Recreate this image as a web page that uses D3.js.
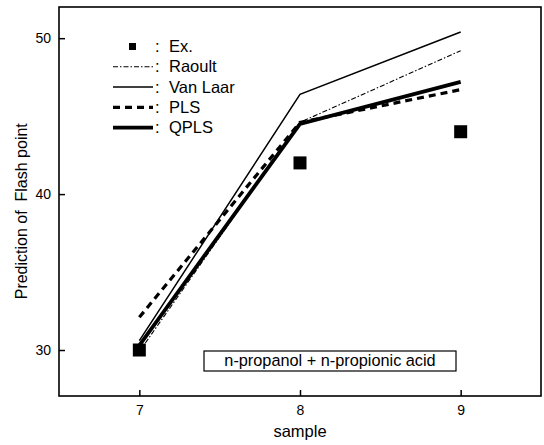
<!DOCTYPE html>
<html><head><meta charset="utf-8">
<script src="https://cdn.jsdelivr.net/npm/d3@7"></script>
<style>body{margin:0;background:#fff}svg{display:block}text{font-family:"Liberation Sans",Arial,sans-serif;fill:#000}</style>
</head><body>
<script>
const samples = [7, 8, 9];
const exValues = [30.0, 42.0, 44.0];
const raoult = [29.9, 44.6, 49.2];
const vanLaar = [30.6, 46.4, 50.4];
const pls = [32.1, 44.6, 46.7];
const qpls = [30.3, 44.5, 47.2];
const yTicks = [30, 40, 50];
const xTicks = [7, 8, 9];
const legendLabels = ["Ex.", "Raoult", "Van Laar", "PLS", "QPLS"];
const boxLabel = "n-propanol + n-propionic acid";

const W = 544, H = 445;
const m = {left: 59, right: 3, top: 7, bottom: 49};
const svg = d3.select("body").append("svg").attr("width", W).attr("height", H);
const x = d3.scaleLinear().domain([6.5, 9.5]).range([m.left, W - m.right]);
const y = d3.scaleLinear().domain([27.05, 52]).range([H - m.bottom, m.top]);

const styles = [
  {data: raoult, w: 1.1, dash: "5,2,1.5,2"},
  {data: vanLaar, w: 1.5, dash: null},
  {data: pls, w: 3.2, dash: "7,5"},
  {data: qpls, w: 3.8, dash: null}
];
const line = d3.line().x((d, i) => x(samples[i])).y(d => y(d));
styles.forEach(s => {
  svg.append("path").datum(s.data).attr("d", line).attr("fill", "none")
    .attr("stroke", "#000").attr("stroke-width", s.w)
    .attr("stroke-dasharray", s.dash);
});
const sq = 13;
svg.selectAll("rect.ex").data(exValues).enter().append("rect").attr("class", "ex")
  .attr("x", (d, i) => x(samples[i]) - sq / 2).attr("y", d => y(d) - sq / 2)
  .attr("width", sq).attr("height", sq).attr("fill", "#000");

// axes
const g = svg.append("g");
g.append("g").attr("transform", `translate(0,${H - m.bottom})`)
  .call(d3.axisBottom(x).tickValues(xTicks).tickFormat(d3.format("d")).tickSizeInner(-6).tickSizeOuter(0).tickPadding(9));
g.append("g").attr("transform", `translate(${m.left},0)`)
  .call(d3.axisLeft(y).tickValues(yTicks).tickFormat(d3.format("d")).tickSizeInner(-6).tickSizeOuter(0).tickPadding(8));
g.selectAll(".domain").remove();
g.selectAll(".tick line").attr("stroke-width", 1.5);
g.selectAll(".tick text").style("font-size", "14px").style("font-family", '"Liberation Sans",Arial,sans-serif');
svg.append("rect").attr("x", m.left).attr("y", m.top)
  .attr("width", W - m.right - m.left).attr("height", H - m.bottom - m.top)
  .attr("fill", "none").attr("stroke", "#000").attr("stroke-width", 1.6);

// axis labels
svg.append("text").attr("x", x(8)).attr("y", 437).attr("text-anchor", "middle")
  .style("font-size", "16.5px").text("sample");
svg.append("text").attr("transform", `translate(27,${y(38.9)}) rotate(-90)`)
  .attr("text-anchor", "middle").style("font-size", "16px").style("white-space", "pre")
  .text("Prediction of\u00a0 Flash point");

// legend
const lx0 = 113, lx1 = 153, ly0 = 46.5, ldy = 20.3;
legendLabels.forEach((lab, i) => {
  const yy = ly0 + i * ldy;
  if (i === 0) {
    svg.append("rect").attr("x", 129).attr("y", yy - 3.5).attr("width", 7).attr("height", 7).attr("fill", "#000");
  } else {
    const s = styles[i - 1];
    svg.append("line").attr("x1", lx0).attr("x2", lx1).attr("y1", yy).attr("y2", yy)
      .attr("stroke", "#000").attr("stroke-width", s.w).attr("stroke-dasharray", s.dash);
  }
  svg.append("text").attr("x", 155).attr("y", yy + 5.5).style("font-size", "16.5px").text(":");
  svg.append("text").attr("x", 169).attr("y", yy + 5.5).style("font-size", "16.5px").text(lab);
});

// annotation box
svg.append("rect").attr("x", 204).attr("y", 351).attr("width", 252).attr("height", 20)
  .attr("fill", "#fff").attr("stroke", "#000").attr("stroke-width", 1.2);
svg.append("text").attr("x", 330).attr("y", 366).attr("text-anchor", "middle")
  .style("font-size", "16.3px").text(boxLabel);
</script>
</body></html>
